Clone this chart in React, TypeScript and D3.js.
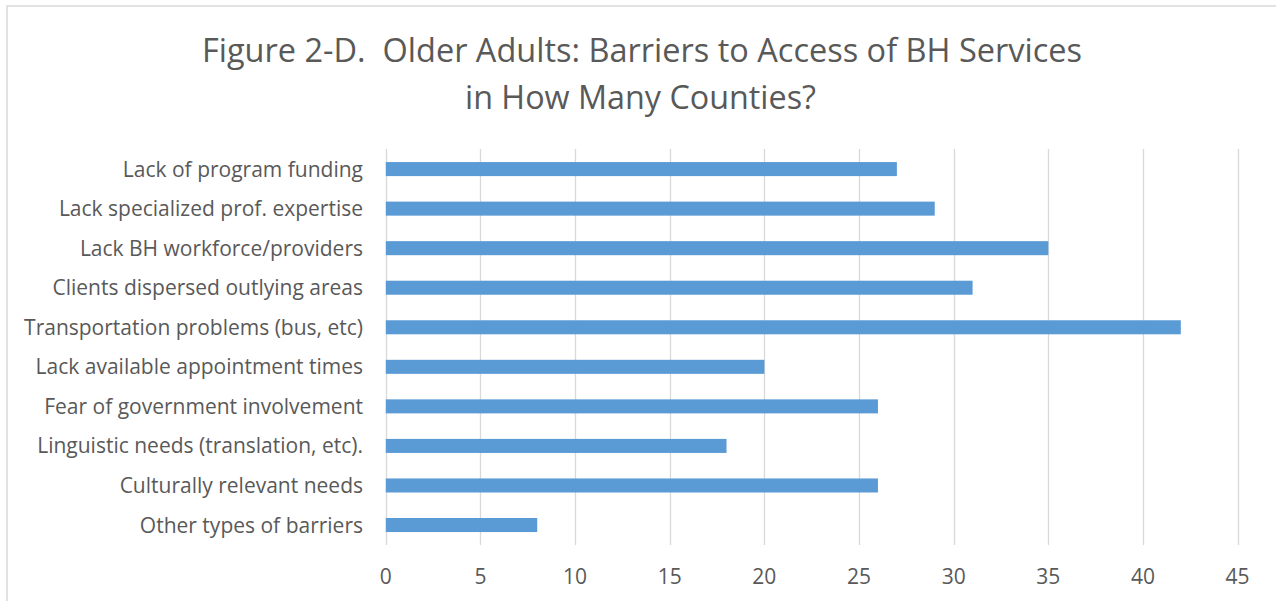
import React from "react";
import * as d3 from "d3";

const categories = [
  "Lack of program funding",
  "Lack specialized prof. expertise",
  "Lack BH workforce/providers",
  "Clients dispersed outlying areas",
  "Transportation problems (bus, etc)",
  "Lack available appointment times",
  "Fear of government involvement",
  "Linguistic needs (translation, etc).",
  "Culturally relevant needs",
  "Other types of barriers",
];
const values = [27, 29, 35, 31, 42, 20, 26, 18, 26, 8];
const xTicks = [0, 5, 10, 15, 20, 25, 30, 35, 40, 45];
const titleLines = [
  "Figure 2-D.  Older Adults: Barriers to Access of BH Services",
  "in How Many Counties?",
];

const W = 1276;
const H = 601;
const FONT = "'Open Sans', 'Noto Sans', sans-serif";
const TEXT = "#595959";
const TITLE_LEN = [880, 351];

export default function App() {
  const x = d3.scaleLinear().domain([0, 45]).range([385.8, 1237.6]);
  const y = d3
    .scaleBand<string>()
    .domain(categories)
    .range([149.3, 544.8])
    .paddingInner(0.645)
    .paddingOuter(0.3225);
  const data = categories.map((c, i) => ({ c, v: values[i] }));
  return (
    <svg
      width={W}
      height={H}
      style={{ position: "absolute", left: 0, top: 0, background: "#fff" }}
      fontFamily={FONT}
    >
      <rect x={7} y={6} width={1290} height={620} fill="#fff" stroke="#d9d9d9" strokeWidth={1.5} />
      {titleLines.map((t, i) => (
        <text
          key={i}
          x={i === 0 ? 642 : 640.5}
          y={61.7 + i * 47}
          textAnchor="middle"
          fontSize={32}
          fill={TEXT}
          textLength={TITLE_LEN[i]}
          lengthAdjust="spacingAndGlyphs"
          style={{ whiteSpace: "pre" }}
        >
          {t}
        </text>
      ))}
      {xTicks.map((t) => (
        <g key={t}>
          <line
            x1={Math.round(x(t)) + 0.5}
            x2={Math.round(x(t)) + 0.5}
            y1={149}
            y2={545}
            stroke="#d9d9d9"
            strokeWidth={1.3}
          />
          <text
            x={x(t)}
            y={584}
            textAnchor="middle"
            fontSize={21}
            fill={TEXT}
          >
            {t}
          </text>
        </g>
      ))}
      {data.map((d) => (
        <g key={d.c}>
          <rect
            x={x(0)}
            y={y(d.c)!}
            width={x(d.v) - x(0)}
            height={y.bandwidth()}
            fill="#5b9bd5"
          />
          <text
            x={363}
            y={y(d.c)! + y.bandwidth() / 2 + 7.5}
            textAnchor="end"
            fontSize={21}
            fill={TEXT}
          >
            {d.c}
          </text>
        </g>
      ))}
    </svg>
  );
}
